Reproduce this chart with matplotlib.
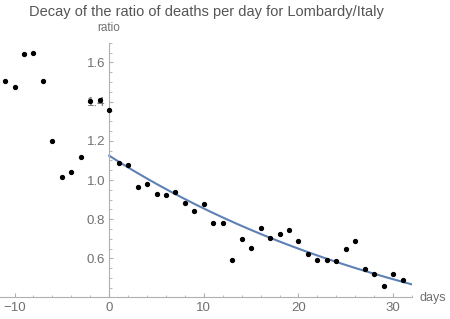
from matplotlib import pyplot as plt
from matplotlib.ticker import MultipleLocator
import numpy as np

days = np.arange(-11, 32)
ratio = [1.503, 1.473, 1.644, 1.649, 1.503, 1.200, 1.017, 1.042, 1.119, 1.402, 1.407, 1.356,
         1.087, 1.079, 0.966, 0.980, 0.929, 0.922, 0.940, 0.883, 0.844, 0.878,
         0.780, 0.780, 0.593, 0.700, 0.654, 0.756, 0.705, 0.725, 0.744, 0.688,
         0.623, 0.593, 0.593, 0.586, 0.649, 0.688, 0.547, 0.522, 0.459, 0.522, 0.491]

# exponential fit a*exp(-b*t)
fit_a = 1.124
fit_b = 0.0274

plt.rcParams['font.family'] = ['Liberation Sans', 'DejaVu Sans']
gray = "#b0b0b0"
label_gray = "#707070"

fig = plt.figure(figsize=(4.5, 3.19), dpi=100)
ax = fig.add_axes([0.0, 0.0699, 412 / 450, 0.866 - 0.0699])

t = np.linspace(0, 32, 200)
ax.plot(t, fit_a * np.exp(-fit_b * t), color="#5E81B5", lw=1.5, zorder=2)
ax.plot(days, ratio, "o", color="black", markersize=2.8, zorder=3)

ax.set_xlim(-11.54, 32.0)
ax.set_ylim(0.405, 1.70)

for s in ["top", "right"]:
    ax.spines[s].set_visible(False)
ax.spines["left"].set_position(("data", 0))
ax.spines["left"].set_color(gray)
ax.spines["bottom"].set_color(gray)

ax.xaxis.set_major_locator(MultipleLocator(10))
ax.xaxis.set_minor_locator(MultipleLocator(2))
ax.yaxis.set_major_locator(MultipleLocator(0.2))
ax.yaxis.set_minor_locator(MultipleLocator(0.05))
ax.tick_params(which="both", direction="in", color=gray, labelcolor=label_gray, labelsize=9.5)
ax.tick_params(which="major", length=3)
ax.tick_params(which="minor", length=1.8)
ax.tick_params(axis="y", pad=3)
ax.tick_params(axis="x", pad=4)
ax.set_yticks([0.6, 0.8, 1.0, 1.2, 1.4, 1.6])
ax.set_yticklabels(["0.6", "0.8", "1.0", "1.2", "1.4", "1.6"])
ax.set_xticks([-10, 0, 10, 20, 30])
ax.set_xticklabels(["\u221210", "0", "10", "20", "30"])

fig.text(109 / 450, 1 - 28 / 319, "ratio", ha="center", va="center", fontsize=8.5, color=label_gray)
fig.text(419 / 450, 1 - 298 / 319, "days", ha="left", va="center", fontsize=9, color=label_gray)
fig.text(206 / 450, 1 - 12 / 319, "Decay of the ratio of deaths per day for Lombardy/Italy",
         ha="center", va="center", fontsize=10.5, color="#555555")

plt.savefig("out.png", dpi=100)
